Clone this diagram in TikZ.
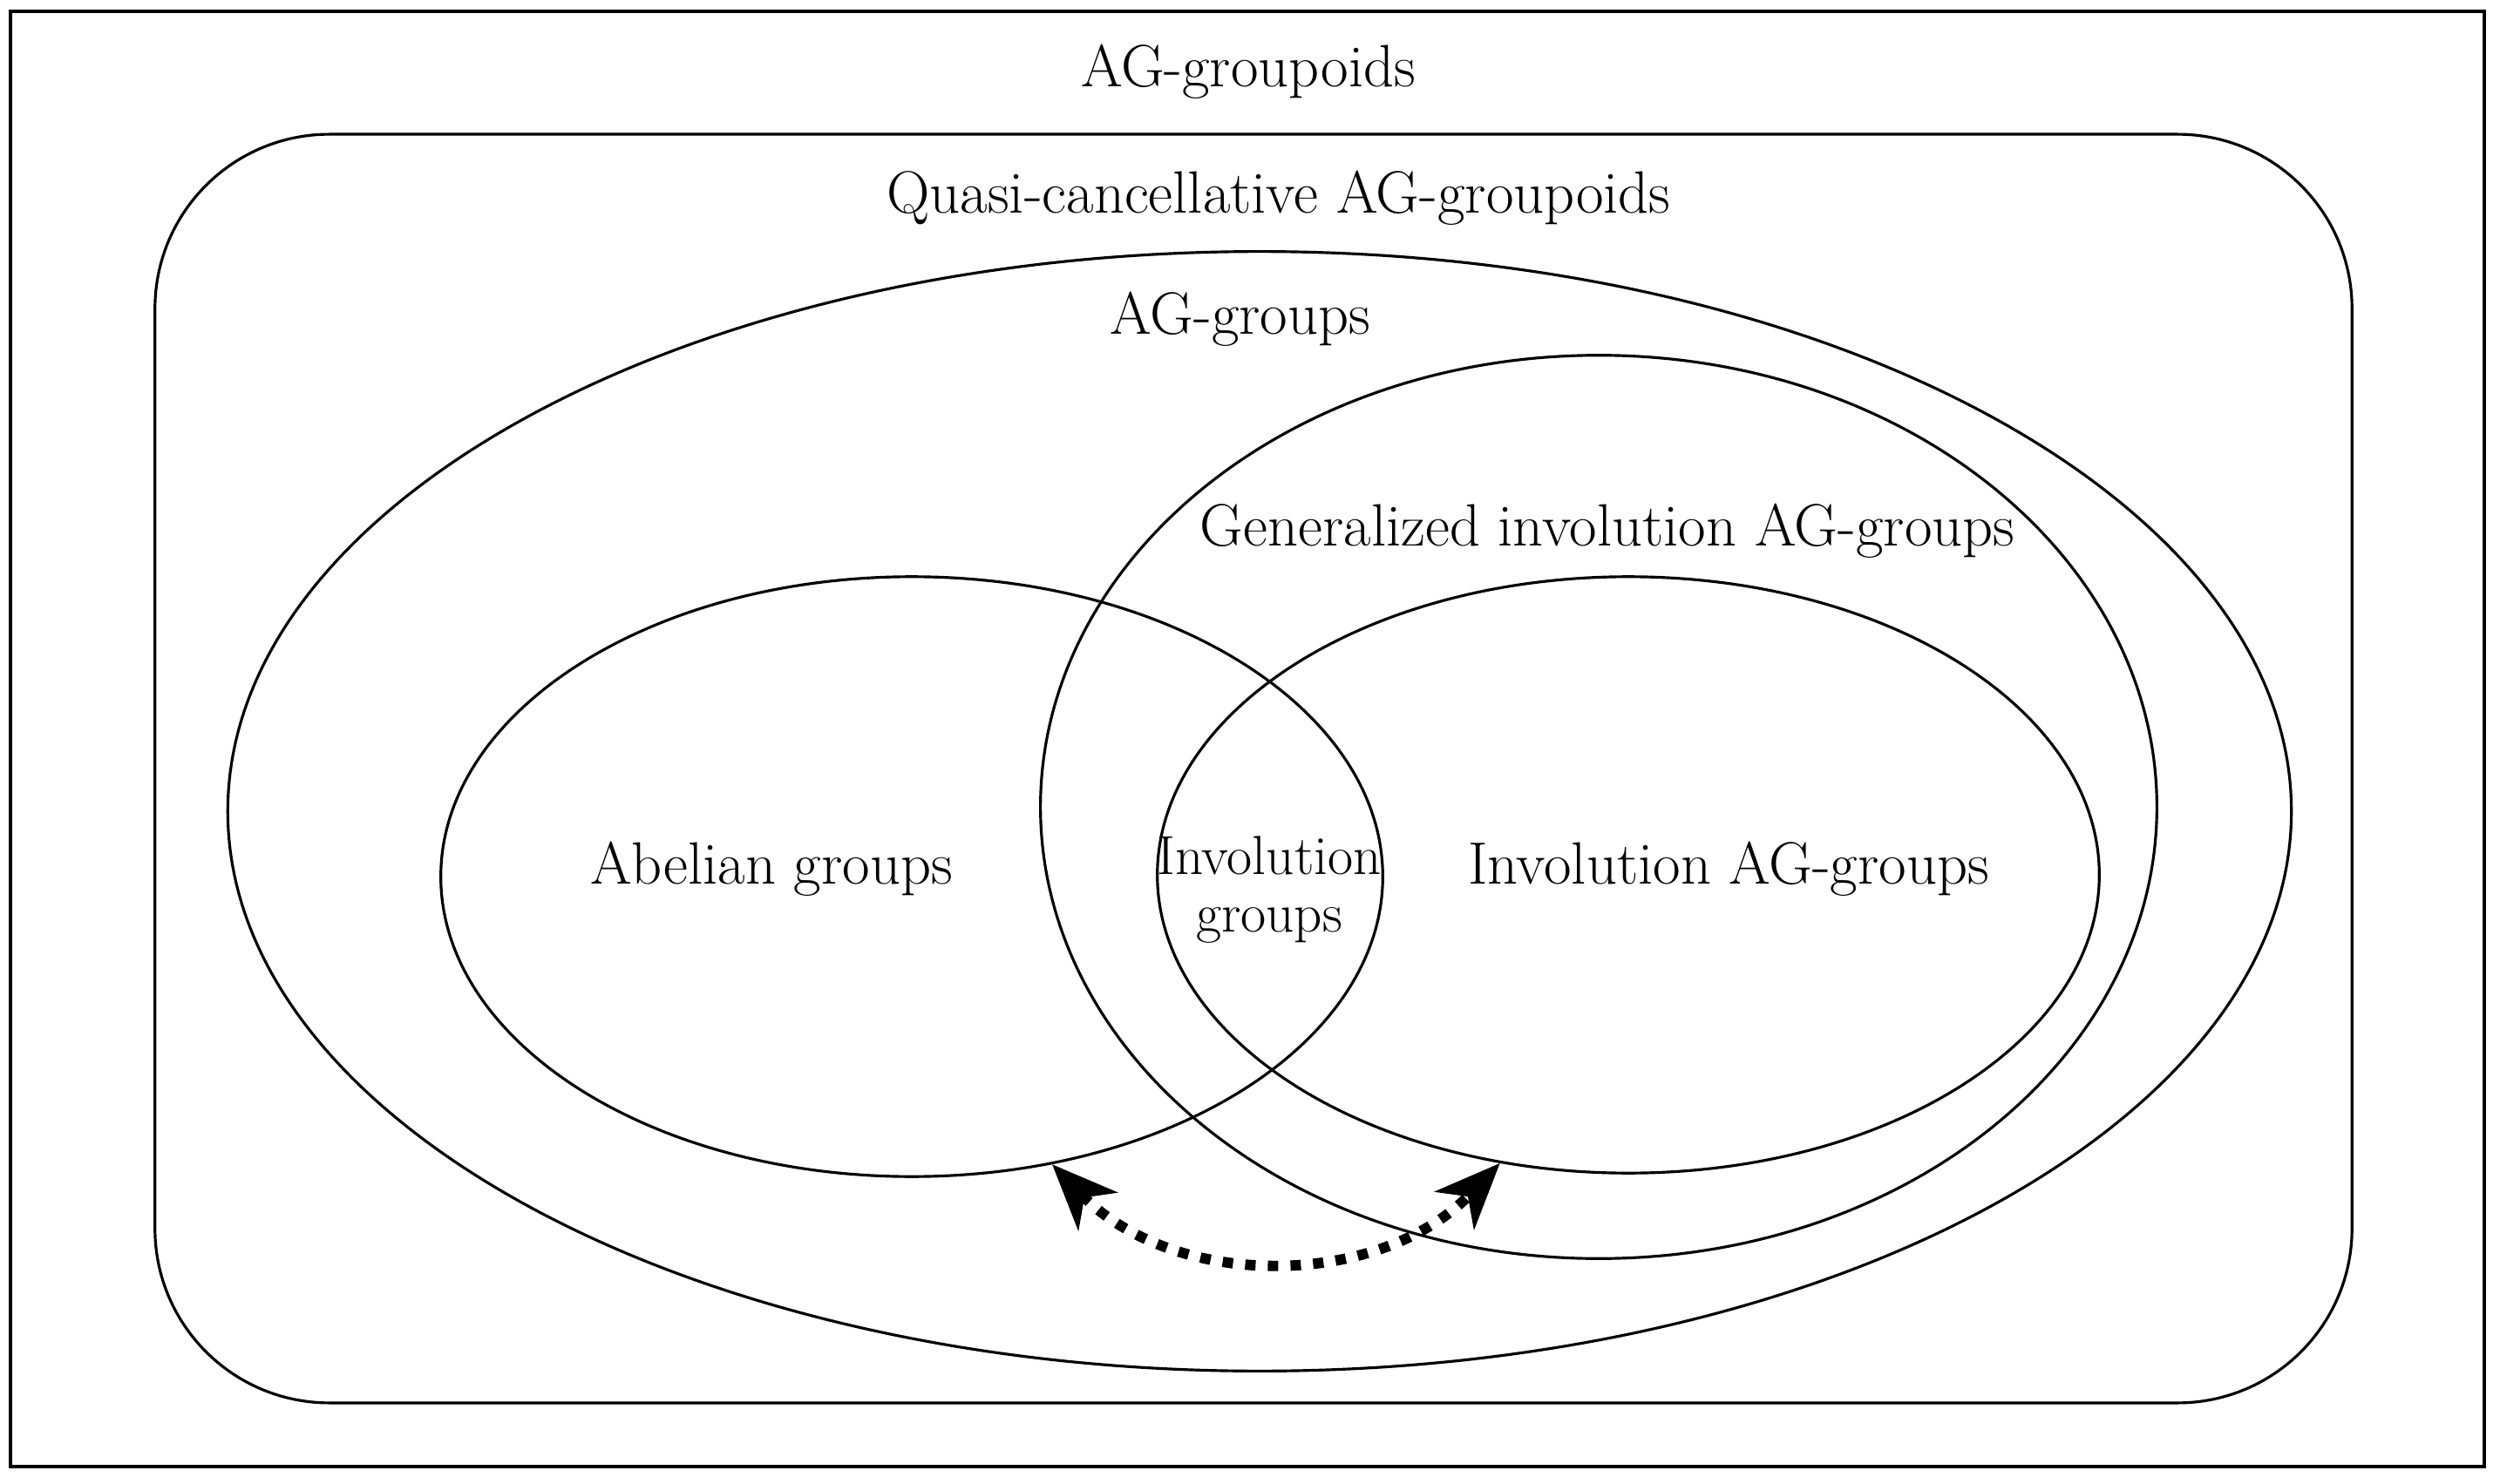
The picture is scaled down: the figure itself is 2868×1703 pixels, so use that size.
\documentclass[tikz,border=0pt]{standalone}
\usetikzlibrary{shapes.geometric,arrows.meta}

\tikzset{
  set/.style={draw, ellipse, line width=0.9pt, inner sep=0pt},
  lbl/.style={inner sep=0pt, font=\fontsize{19.5}{16.5}\selectfont},
  link/.style={line width=3.4pt, dash pattern=on 3.4pt off 4pt,
    {Stealth[length=0.75cm,width=0.62cm,inset=0.22cm]}-{Stealth[length=0.75cm,width=0.62cm,inset=0.22cm]}}
}

\begin{document}
\begin{tikzpicture}[x=0.01cm,y=-0.01cm]

  \useasboundingbox (0,0) rectangle (2868,1703);

  %% -- frames
  \node (frame) [draw, line width=1.1pt, minimum width=28.37cm, minimum height=16.69cm, inner sep=0pt] at (1431,848) {};
  \node (quasi) [draw, line width=0.9pt, rounded corners=2cm, minimum width=25.19cm, minimum height=14.55cm, inner sep=0pt] at (1438,882) {};

  %% -- sets
  \node (agg)   [set, minimum width=23.66cm, minimum height=12.84cm] at (1445,931) {};
  \node (gen)   [set, minimum width=12.8cm,  minimum height=10.36cm] at (1834,926) {};
  \node (abel)  [set, minimum width=10.8cm,  minimum height=6.88cm]  at (1046,1006) {};
  \node (invag) [set, minimum width=10.8cm,  minimum height=6.84cm]  at (1868,1004) {};

  %% -- labels
  \node (t0) [lbl] at (1432,82)  {AG-groupoids};
  \node (t1) [lbl] at (1467,227) {Quasi-cancellative AG-groupoids};
  \node (t2) [lbl] at (1423,366) {AG-groups};
  \node (t3) [lbl] at (1844,609) {Generalized involution AG-groups};
  \node (t4) [lbl] at (885,997)  {Abelian groups};
  \node (t5) [lbl] at (1983,997) {Involution AG-groups};
  \node (t6) [lbl, align=center, font=\fontsize{18}{18.5}\selectfont] at (1456,1021) {Involution\\groups};

  %% -- edges
  \draw[link] (abel.-64) to[bend right=46] (invag.-114);

\end{tikzpicture}
\end{document}
